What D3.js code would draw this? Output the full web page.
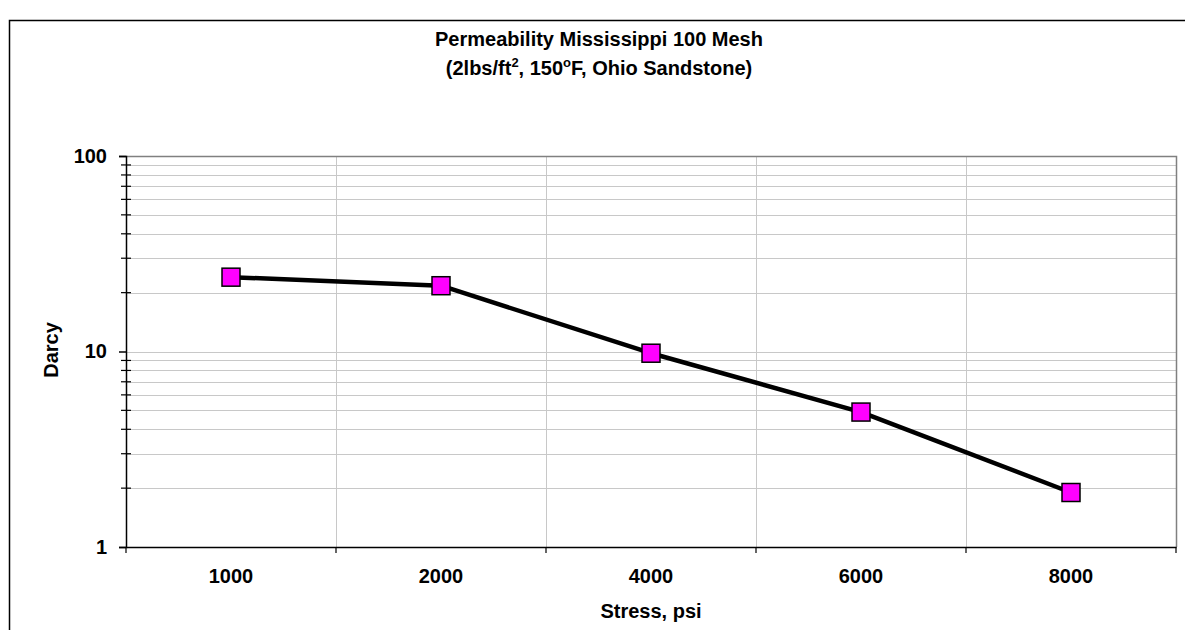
<!DOCTYPE html>
<html>
<head>
<meta charset="utf-8">
<script src="https://cdn.jsdelivr.net/npm/d3@7"></script>
<style>
  body { margin: 0; background: #fff; }
  text { font-family: "Liberation Sans", Arial, sans-serif; font-weight: bold; fill: #000; }
</style>
</head>
<body>
<script>
// data
const stressLabels = ["1000", "2000", "4000", "6000", "8000"];
const darcyValues = [24, 21.7, 9.8, 4.9, 1.9];
const yMajorTicks = [1, 10, 100];
const yMinorTicks = [2, 3, 4, 5, 6, 7, 8, 9, 20, 30, 40, 50, 60, 70, 80, 90];

const W = 1185, H = 630;
const plot = { left: 126, right: 1176, top: 156, bottom: 547 };
const fontSize = "20px";

const svg = d3.select("body").append("svg")
  .attr("width", W)
  .attr("height", H);

// outer chart frame (extends past right/bottom edges)
svg.append("rect")
  .attr("x", 9.5).attr("y", 20.5)
  .attr("width", 1200).attr("height", 700)
  .attr("fill", "#fff")
  .attr("stroke", "#000")
  .attr("stroke-width", 1.5);

const x = d3.scaleBand()
  .domain(stressLabels)
  .range([plot.left, plot.right])
  .paddingInner(0).paddingOuter(0);

const y = d3.scaleLog()
  .domain([1, 100])
  .range([plot.bottom, plot.top]);

// horizontal gridlines
svg.append("g")
  .selectAll("line")
  .data(yMinorTicks.concat([10]))
  .join("line")
  .attr("x1", plot.left).attr("x2", plot.right)
  .attr("y1", d => Math.round(y(d)) + 0.5)
  .attr("y2", d => Math.round(y(d)) + 0.5)
  .attr("stroke", "#c8c8c8")
  .attr("stroke-width", 1);

// vertical gridlines at category boundaries
const bounds = stressLabels.slice(1).map(d => x(d));
svg.append("g")
  .selectAll("line")
  .data(bounds)
  .join("line")
  .attr("x1", d => Math.round(d) + 0.5).attr("x2", d => Math.round(d) + 0.5)
  .attr("y1", plot.top).attr("y2", plot.bottom)
  .attr("stroke", "#c8c8c8")
  .attr("stroke-width", 1);

// plot area border top / right
svg.append("path")
  .attr("d", `M${plot.left},${plot.top + 0.5}H${plot.right + 0.5}V${plot.bottom}`)
  .attr("fill", "none")
  .attr("stroke", "#808080")
  .attr("stroke-width", 1.5);

// y axis
const yAxis = svg.append("g")
  .attr("transform", `translate(${plot.left},0)`)
  .call(d3.axisLeft(y).tickValues(yMajorTicks).tickFormat(d3.format("d")).tickSize(7).tickPadding(12));
yAxis.select(".domain").attr("stroke", "#000").attr("stroke-width", 1.5);
yAxis.selectAll(".tick line").attr("stroke", "#000").attr("stroke-width", 1.5);
yAxis.selectAll(".tick text")
  .style("font-size", fontSize)
  .attr("font-family", null);

yAxis.append("g")
  .selectAll("line")
  .data(yMinorTicks)
  .join("line")
  .attr("x1", -5).attr("x2", 5)
  .attr("y1", d => y(d)).attr("y2", d => y(d))
  .attr("stroke", "#000")
  .attr("stroke-width", 1.2);

// x axis
const xAxis = svg.append("g")
  .attr("transform", `translate(0,${plot.bottom})`)
  .call(d3.axisBottom(x).tickSize(0).tickPadding(22));
xAxis.select(".domain").attr("stroke", "#000").attr("stroke-width", 1.5);
xAxis.selectAll(".tick text")
  .style("font-size", fontSize)
  .attr("font-family", null);

xAxis.append("g")
  .selectAll("line")
  .data([plot.left].concat(bounds, [plot.right]))
  .join("line")
  .attr("x1", d => d).attr("x2", d => d)
  .attr("y1", 0).attr("y2", 6)
  .attr("stroke", "#000")
  .attr("stroke-width", 1.2);

// series line
const pts = stressLabels.map((s, i) => [x(s) + x.bandwidth() / 2, y(darcyValues[i])]);
svg.append("path")
  .attr("d", d3.line()(pts))
  .attr("fill", "none")
  .attr("stroke", "#000")
  .attr("stroke-width", 4.5)
  .attr("stroke-linejoin", "round");

// markers
svg.append("g")
  .selectAll("rect")
  .data(pts)
  .join("rect")
  .attr("x", d => d[0] - 9)
  .attr("y", d => d[1] - 9)
  .attr("width", 18).attr("height", 18)
  .attr("fill", "#ff00ff")
  .attr("stroke", "#000")
  .attr("stroke-width", 1.5);

// titles
const title = svg.append("g").style("font-size", fontSize);
title.append("text")
  .attr("x", 599).attr("y", 46)
  .attr("text-anchor", "middle")
  .text("Permeability Mississippi 100 Mesh");

const sub = title.append("text")
  .attr("x", 599).attr("y", 75)
  .attr("text-anchor", "middle");
sub.append("tspan").text("(2lbs/ft");
sub.append("tspan").attr("dy", -8).style("font-size", "13px").text("2");
sub.append("tspan").attr("dy", 8).text(", 150");
sub.append("tspan").attr("dy", -8).style("font-size", "13px").text("o");
sub.append("tspan").attr("dy", 8).text("F, Ohio Sandstone)");

// axis titles
svg.append("text")
  .attr("transform", `translate(58,350) rotate(-90)`)
  .attr("text-anchor", "middle")
  .style("font-size", fontSize)
  .text("Darcy");

svg.append("text")
  .attr("x", (plot.left + plot.right) / 2)
  .attr("y", 618)
  .attr("text-anchor", "middle")
  .style("font-size", fontSize)
  .text("Stress, psi");
</script>
</body>
</html>
